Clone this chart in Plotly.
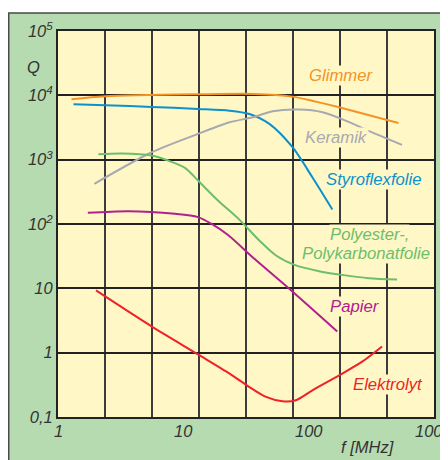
import plotly.graph_objects as go
import numpy as np

# ---- data ----
glimmer_f = [1.28, 2.4, 13, 37, 74, 114, 175, 520]
glimmer_q = [8670, 9660, 10380, 10520, 9550, 7980, 6520, 3720]

styro_f = [1.33, 2.38, 5.59, 13.1, 23.4, 33.7, 48.6, 74.3, 107, 154.5]
styro_q = [7240, 7000, 6610, 6150, 5780, 5140, 3600, 1560, 533, 168]

keramik_f = [1.95, 5.59, 13.1, 23.4, 35.8, 51.6, 84, 129, 197, 321, 556]
keramik_q = [421, 1303, 2518, 3810, 4550, 5650, 6000, 5450, 4050, 2660, 1700]

poly_f = [2.10, 3.22, 5.59, 7.56, 10.3, 13.1, 18.9, 28.1, 40.4, 54.9, 79, 121, 197, 302, 507]
poly_q = [1213, 1245, 1158, 969, 746, 473, 232, 116, 55.4, 32.4, 22.7, 18.5, 15.9, 14.4, 13.7]

papier_f = [1.73, 3.64, 8.55, 13.1, 16.7, 22.6, 36.9, 70, 169]
papier_q = [149, 158, 144, 128, 101, 68, 28.8, 9.86, 2.14]

elko_f = [2.01, 5.58, 13.1, 23.4, 33.7, 45.7, 61.9, 79.1, 107, 175, 267, 385]
elko_q = [9.27, 2.56, 0.94, 0.472, 0.292, 0.205, 0.175, 0.182, 0.26, 0.444, 0.724, 1.25]

x_tick_vals = [1, 10, 100, 1000]
x_tick_text = ["1", "10", "100", "1000"]
y_tick_vals = [0.1, 1, 10, 100, 1e3, 1e4, 1e5]
y_tick_text = ["0,1", "1", "10", "10<sup>2</sup>", "10<sup>3</sup>", "10<sup>4</sup>", "10<sup>5</sup>"]
x_grid_vals = [10 ** (0.375 * k) for k in range(1, 8)]

series = [
    ("Glimmer", glimmer_f, glimmer_q, "#f39325"),
    ("Styroflexfolie", styro_f, styro_q, "#0a91cf"),
    ("Keramik", keramik_f, keramik_q, "#a8a8b0"),
    ("Polyester", poly_f, poly_q, "#6cbe6a"),
    ("Papier", papier_f, papier_q, "#b0208e"),
    ("Elektrolyt", elko_f, elko_q, "#ee2228"),
]

FONT = "Liberation Sans, Arial, sans-serif"
YELLOW = "#fff8c6"
GREEN = "#b6dbb0"
TXT = "#333333"

fig = go.Figure()
for name, f, q, c in series:
    fig.add_trace(go.Scatter(x=f, y=q, mode="lines", name=name,
                             line=dict(color=c, width=2, shape="spline", smoothing=0.8),
                             showlegend=False, hoverinfo="skip"))

# page has an 8px body margin: figure placed at (8, 8)
fig.update_layout(
    width=440, height=452,
    margin=dict(l=50, r=12, t=22, b=43),
    paper_bgcolor=GREEN, plot_bgcolor=YELLOW,
    font=dict(family=FONT, color=TXT),
    showlegend=False,
)
fig.update_xaxes(type="log", range=[0, 3], tickvals=x_grid_vals, showticklabels=False,
                 showgrid=True, gridcolor="#3c3c3c", gridwidth=1.5, ticks="",
                 showline=True, mirror=True, linecolor="#222", linewidth=2, zeroline=False)
fig.update_yaxes(type="log", range=[-1, 5], tickvals=y_tick_vals,
                 ticktext=["<i>" + t + "</i>" for t in y_tick_text],
                 tickfont=dict(size=16.5, color=TXT, family=FONT),
                 showgrid=True, gridcolor="#222", gridwidth=1.5, ticks="",
                 showline=True, mirror=True, linecolor="#222", linewidth=2, zeroline=False)

# frame around figure (white strip at top + border line)
fig.add_shape(type="rect", xref="paper", yref="paper", x0=-0.2, x1=1.1, y0=1.0465, y1=1.2,
              fillcolor="white", line_width=0, layer="above")
fig.add_shape(type="path", xref="paper", yref="paper",
              path="M -0.1310 -0.2 L -0.1310 1.0465 L 1.1 1.0465",
              line=dict(color="#4a4a4a", width=1.5), layer="above")

ann = []
for v, t in zip(x_tick_vals, x_tick_text):
    ann.append(dict(x=np.log10(v), y=(417 - 431) / 387, xref="x", yref="paper", text="<i>" + t + "</i>",
                    showarrow=False, font=dict(size=16.5, color=TXT), xanchor="center", yanchor="middle"))
ann.append(dict(x=(369 - 58) / 378, y=(417 - 447) / 387, xref="paper", yref="paper",
                text="<i>f [MHz]</i>", showarrow=False, font=dict(size=16.5, color=TXT),
                xanchor="center", yanchor="middle"))
ann.append(dict(x=(33.5 - 58) / 378, y=4.446, xref="paper", yref="y",
                text="<i>Q</i>", showarrow=False, font=dict(size=16.5, color=TXT),
                xanchor="center", yanchor="middle"))

labels = [
    ("Glimmer", 343, 75, "#f39325"),
    ("Keramik", 337.5, 137, "#a8a8b0"),
    ("Styroflexfolie", 376, 179, "#0a91cf"),
    ("Polyester-,", 371, 234, "#6cbe6a"),
    ("Polykarbonatfolie", 367.7, 253, "#6cbe6a"),
    ("Papier", 357, 306, "#b0208e"),
    ("Elektrolyt", 390, 384, "#ee2228"),
]
for t, px, py, c in labels:
    ann.append(dict(x=(px - 58) / 378, y=(417 - py) / 387, xref="paper", yref="paper",
                    text="<i>" + t + "</i>", showarrow=False, bgcolor=YELLOW, borderpad=0,
                    xanchor="center", yanchor="middle",
                    font=dict(size=16.7, color=c)))
fig.update_layout(annotations=ann)

fig.write_html("out.html")
